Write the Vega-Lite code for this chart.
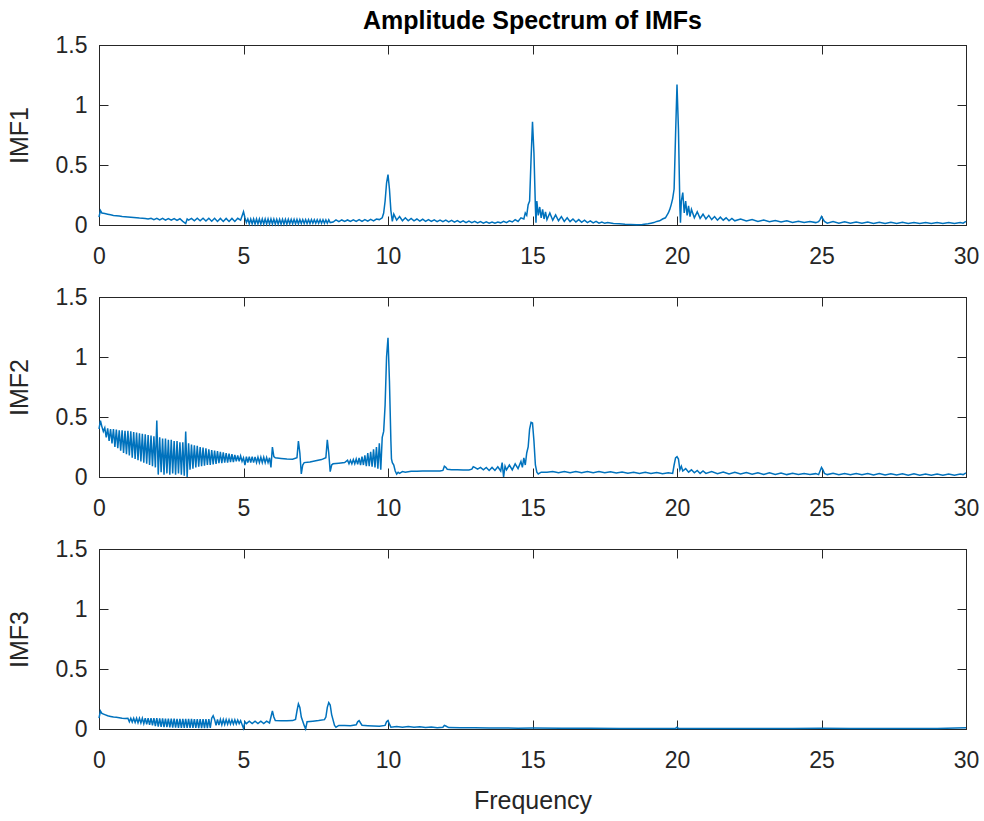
{
"$schema": "https://vega.github.io/schema/vega-lite/v6.json",
"background": "white",
"padding": {"left": 6, "top": 8, "right": 18, "bottom": 5},
"bounds": "flush",
"spacing": 72,
"config": {
 "view": {"stroke": "#262626", "strokeWidth": 1},
 "font": "Liberation Sans",
 "axis": {"grid": false, "domainColor": "#262626", "tickColor": "#262626", "labelColor": "#262626", "titleColor": "#262626", "labelFont": "Liberation Sans", "titleFont": "Liberation Sans", "labelFontSize": 23, "titleFontSize": 25, "titleFontWeight": "normal", "tickSize": -9, "tickWidth": 1, "domainWidth": 1, "labelOverlap": false}
},
"datasets": {
"d1": [
{"f":0,"a":0.065},{"f":0.05,"a":0.12},{"f":0.1,"a":0.1},{"f":0.2,"a":0.095},{"f":0.3,"a":0.09},{"f":0.4,"a":0.085},{"f":0.5,"a":0.08},{"f":0.6,"a":0.078},{"f":0.7,"a":0.075},{"f":0.8,"a":0.07},{"f":0.9,"a":0.068},{"f":1.0,"a":0.066},{"f":1.1,"a":0.064},{"f":1.2,"a":0.062},{"f":1.3,"a":0.06},{"f":1.4,"a":0.058},{"f":1.5,"a":0.057},{"f":1.6,"a":0.055},
{"f":1.7,"a":0.05},{"f":1.8,"a":0.056},{"f":1.9,"a":0.045},{"f":2.0,"a":0.055},{"f":2.1,"a":0.042},{"f":2.2,"a":0.055},{"f":2.3,"a":0.04},{"f":2.4,"a":0.054},{"f":2.5,"a":0.04},{"f":2.6,"a":0.054},{"f":2.7,"a":0.038},{"f":2.8,"a":0.052},{"f":2.9,"a":0.03},{"f":3.0,"a":0.012},{"f":3.05,"a":0.05},{"f":3.1,"a":0.04},{"f":3.2,"a":0.055},{"f":3.3,"a":0.035},{"f":3.4,"a":0.056},{"f":3.5,"a":0.035},{"f":3.6,"a":0.056},{"f":3.7,"a":0.033},{"f":3.8,"a":0.056},{"f":3.9,"a":0.032},{"f":4.0,"a":0.056},{"f":4.1,"a":0.03},{"f":4.2,"a":0.055},{"f":4.3,"a":0.03},{"f":4.4,"a":0.055},{"f":4.5,"a":0.03},{"f":4.6,"a":0.055},{"f":4.7,"a":0.03},{"f":4.8,"a":0.056},{"f":4.9,"a":0.04},{"f":4.95,"a":0.075},{"f":5.0,"a":0.11},{"f":5.05,"a":0.06},
{"f":5.1,"a":0.02},{"f":5.15,"a":0.05},{"f":5.2,"a":0.01},{"f":5.25,"a":0.05},{"f":5.3,"a":0.01},{"f":5.35,"a":0.05},{"f":5.4,"a":0.008},{"f":5.45,"a":0.05},{"f":5.5,"a":0.01},{"f":5.55,"a":0.05},{"f":5.6,"a":0.008},{"f":5.65,"a":0.05},{"f":5.7,"a":0.008},{"f":5.75,"a":0.05},{"f":5.8,"a":0.008},{"f":5.85,"a":0.05},{"f":5.9,"a":0.008},{"f":5.95,"a":0.05},{"f":6.0,"a":0.008},{"f":6.05,"a":0.049},{"f":6.1,"a":0.008},{"f":6.15,"a":0.048},{"f":6.2,"a":0.008},{"f":6.25,"a":0.048},{"f":6.3,"a":0.008},{"f":6.35,"a":0.048},{"f":6.4,"a":0.008},{"f":6.45,"a":0.048},{"f":6.5,"a":0.008},{"f":6.55,"a":0.048},{"f":6.6,"a":0.01},{"f":6.65,"a":0.047},{"f":6.7,"a":0.01},{"f":6.75,"a":0.047},{"f":6.8,"a":0.01},{"f":6.85,"a":0.046},{"f":6.9,"a":0.01},{"f":6.95,"a":0.046},{"f":7.0,"a":0.012},{"f":7.05,"a":0.045},{"f":7.1,"a":0.012},{"f":7.15,"a":0.045},{"f":7.2,"a":0.012},{"f":7.25,"a":0.045},{"f":7.3,"a":0.012},{"f":7.35,"a":0.045},{"f":7.4,"a":0.014},{"f":7.45,"a":0.044},{"f":7.5,"a":0.015},{"f":7.55,"a":0.044},{"f":7.6,"a":0.015},{"f":7.65,"a":0.044},{"f":7.7,"a":0.015},{"f":7.75,"a":0.044},{"f":7.8,"a":0.015},{"f":7.85,"a":0.043},{"f":7.9,"a":0.015},{"f":7.95,"a":0.043},{"f":8.0,"a":0.02},{"f":8.1,"a":0.025},{"f":8.2,"a":0.042},{"f":8.3,"a":0.028},{"f":8.4,"a":0.042},{"f":8.5,"a":0.03},{"f":8.6,"a":0.042},{"f":8.7,"a":0.03},{"f":8.8,"a":0.043},{"f":8.9,"a":0.03},{"f":9.0,"a":0.044},{"f":9.1,"a":0.03},{"f":9.2,"a":0.045},{"f":9.3,"a":0.032},{"f":9.4,"a":0.047},{"f":9.5,"a":0.035},{"f":9.6,"a":0.05},{"f":9.7,"a":0.045},{"f":9.8,"a":0.06},{"f":9.85,"a":0.1},{"f":9.9,"a":0.2},{"f":9.95,"a":0.35},{"f":10.0,"a":0.42},{"f":10.05,"a":0.3},{"f":10.1,"a":0.12},{"f":10.15,"a":0.03},{"f":10.2,"a":0.09},{"f":10.3,"a":0.04},{"f":10.4,"a":0.07},{"f":10.5,"a":0.035},{"f":10.6,"a":0.06},{"f":10.7,"a":0.035},{"f":10.8,"a":0.055},{"f":10.9,"a":0.035},{"f":11.0,"a":0.05},{"f":11.1,"a":0.033},{"f":11.2,"a":0.048},{"f":11.3,"a":0.03},{"f":11.4,"a":0.045},{"f":11.5,"a":0.03},{"f":11.6,"a":0.043},{"f":11.7,"a":0.028},{"f":11.8,"a":0.04},{"f":11.9,"a":0.027},{"f":12.0,"a":0.04},{"f":12.1,"a":0.025},{"f":12.2,"a":0.038},{"f":12.3,"a":0.024},{"f":12.4,"a":0.036},{"f":12.5,"a":0.022},{"f":12.6,"a":0.034},{"f":12.7,"a":0.02},{"f":12.8,"a":0.032},{"f":12.9,"a":0.02},{"f":13.0,"a":0.03},{"f":13.1,"a":0.018},{"f":13.2,"a":0.028},{"f":13.3,"a":0.016},{"f":13.4,"a":0.026},{"f":13.5,"a":0.015},{"f":13.6,"a":0.025},{"f":13.7,"a":0.015},{"f":13.8,"a":0.025},{"f":13.9,"a":0.018},{"f":14.0,"a":0.03},{"f":14.1,"a":0.02},{"f":14.2,"a":0.035},{"f":14.3,"a":0.025},{"f":14.4,"a":0.045},{"f":14.5,"a":0.03},{"f":14.6,"a":0.06},{"f":14.7,"a":0.05},{"f":14.75,"a":0.1},{"f":14.8,"a":0.08},{"f":14.85,"a":0.17},{"f":14.9,"a":0.2},{"f":14.95,"a":0.55},{"f":15.0,"a":0.86},{"f":15.05,"a":0.6},{"f":15.1,"a":0.15},{"f":15.12,"a":0.02},{"f":15.15,"a":0.2},{"f":15.2,"a":0.08},{"f":15.25,"a":0.15},{"f":15.3,"a":0.06},{"f":15.35,"a":0.13},{"f":15.4,"a":0.05},{"f":15.45,"a":0.11},{"f":15.5,"a":0.045},{"f":15.6,"a":0.1},{"f":15.7,"a":0.04},{"f":15.8,"a":0.085},{"f":15.9,"a":0.035},{"f":16.0,"a":0.07},{"f":16.1,"a":0.03},{"f":16.2,"a":0.06},{"f":16.3,"a":0.028},{"f":16.4,"a":0.05},{"f":16.5,"a":0.025},{"f":16.6,"a":0.045},{"f":16.7,"a":0.022},{"f":16.8,"a":0.04},{"f":16.9,"a":0.02},{"f":17.0,"a":0.035},{"f":17.1,"a":0.018},{"f":17.2,"a":0.03},{"f":17.3,"a":0.016},{"f":17.4,"a":0.025},{"f":17.5,"a":0.014},{"f":17.6,"a":0.02},{"f":17.8,"a":0.012},{"f":18.0,"a":0.01},{"f":18.2,"a":0.006},{"f":18.4,"a":0.004},{"f":18.6,"a":0.002},{"f":18.8,"a":0.004},{"f":19.0,"a":0.01},{"f":19.1,"a":0.015},{"f":19.2,"a":0.02},{"f":19.3,"a":0.03},{"f":19.4,"a":0.035},{"f":19.5,"a":0.05},{"f":19.6,"a":0.06},{"f":19.65,"a":0.08},{"f":19.7,"a":0.1},{"f":19.75,"a":0.13},{"f":19.8,"a":0.17},{"f":19.85,"a":0.22},{"f":19.9,"a":0.3},{"f":19.95,"a":0.75},{"f":20.0,"a":1.17},{"f":20.05,"a":0.8},{"f":20.1,"a":0.15},{"f":20.12,"a":0.02},{"f":20.15,"a":0.2},{"f":20.2,"a":0.27},{"f":20.25,"a":0.1},{"f":20.3,"a":0.2},{"f":20.35,"a":0.08},{"f":20.4,"a":0.16},{"f":20.45,"a":0.07},{"f":20.5,"a":0.13},{"f":20.6,"a":0.06},{"f":20.7,"a":0.11},{"f":20.8,"a":0.055},{"f":20.9,"a":0.09},{"f":21.0,"a":0.05},{"f":21.1,"a":0.08},{"f":21.2,"a":0.045},{"f":21.3,"a":0.07},{"f":21.4,"a":0.04},{"f":21.5,"a":0.065},{"f":21.6,"a":0.04},{"f":21.7,"a":0.06},{"f":21.8,"a":0.035},{"f":21.9,"a":0.055},{"f":22.0,"a":0.035},{"f":22.2,"a":0.05},{"f":22.4,"a":0.033},{"f":22.6,"a":0.045},{"f":22.8,"a":0.03},{"f":23.0,"a":0.042},{"f":23.2,"a":0.028},{"f":23.4,"a":0.038},{"f":23.6,"a":0.025},{"f":23.8,"a":0.035},{"f":24.0,"a":0.022},{"f":24.2,"a":0.032},{"f":24.4,"a":0.02},{"f":24.6,"a":0.03},{"f":24.8,"a":0.02},{"f":24.9,"a":0.028},{"f":24.95,"a":0.045},{"f":25.0,"a":0.07},{"f":25.05,"a":0.05},{"f":25.1,"a":0.03},{"f":25.2,"a":0.015},{"f":25.4,"a":0.028},{"f":25.6,"a":0.015},{"f":25.8,"a":0.026},{"f":26.0,"a":0.014},{"f":26.2,"a":0.025},{"f":26.4,"a":0.014},{"f":26.6,"a":0.024},{"f":26.8,"a":0.013},{"f":27.0,"a":0.023},{"f":27.2,"a":0.012},{"f":27.4,"a":0.022},{"f":27.6,"a":0.012},{"f":27.8,"a":0.022},{"f":28.0,"a":0.012},{"f":28.2,"a":0.021},{"f":28.4,"a":0.012},{"f":28.6,"a":0.02},{"f":28.8,"a":0.012},{"f":29.0,"a":0.02},{"f":29.2,"a":0.012},{"f":29.4,"a":0.02},{"f":29.6,"a":0.012},{"f":29.8,"a":0.02},{"f":29.9,"a":0.015},{"f":30.0,"a":0.03}
],
"d2": [
{"f":0,"a":0.4},{"f":0.05,"a":0.47},{"f":0.1,"a":0.42},{"f":0.15,"a":0.38},{"f":0.2,"a":0.41},{"f":0.25,"a":0.33},{"f":0.3,"a":0.405},{"f":0.35,"a":0.3},{"f":0.4,"a":0.4},{"f":0.45,"a":0.28},{"f":0.5,"a":0.4},{"f":0.55,"a":0.25},{"f":0.6,"a":0.395},{"f":0.65,"a":0.24},{"f":0.7,"a":0.39},{"f":0.75,"a":0.22},{"f":0.8,"a":0.39},{"f":0.85,"a":0.2},{"f":0.9,"a":0.385},{"f":0.95,"a":0.19},{"f":1.0,"a":0.385},{"f":1.05,"a":0.18},{"f":1.1,"a":0.38},{"f":1.15,"a":0.16},{"f":1.2,"a":0.375},{"f":1.25,"a":0.15},{"f":1.3,"a":0.37},{"f":1.35,"a":0.14},{"f":1.4,"a":0.365},{"f":1.45,"a":0.13},{"f":1.5,"a":0.36},{"f":1.55,"a":0.12},{"f":1.6,"a":0.355},{"f":1.65,"a":0.11},{"f":1.7,"a":0.35},{"f":1.75,"a":0.1},{"f":1.8,"a":0.345},{"f":1.85,"a":0.09},{"f":1.9,"a":0.34},{"f":1.95,"a":0.08},{"f":2.0,"a":0.47},{"f":2.05,"a":0.02},{"f":2.1,"a":0.33},{"f":2.15,"a":0.04},{"f":2.2,"a":0.32},{"f":2.25,"a":0.02},{"f":2.3,"a":0.32},{"f":2.35,"a":0.03},{"f":2.4,"a":0.31},{"f":2.45,"a":0.02},{"f":2.5,"a":0.31},{"f":2.55,"a":0.03},{"f":2.6,"a":0.3},{"f":2.65,"a":0.02},{"f":2.7,"a":0.3},{"f":2.75,"a":0.03},{"f":2.8,"a":0.29},{"f":2.85,"a":0.02},{"f":2.9,"a":0.29},{"f":2.95,"a":0.01},{"f":3.0,"a":0.38},{"f":3.05,"a":0.0},{"f":3.1,"a":0.28},{"f":3.15,"a":0.06},{"f":3.2,"a":0.27},{"f":3.25,"a":0.07},{"f":3.3,"a":0.265},{"f":3.35,"a":0.08},{"f":3.4,"a":0.26},{"f":3.45,"a":0.085},{"f":3.5,"a":0.25},{"f":3.55,"a":0.09},{"f":3.6,"a":0.245},{"f":3.65,"a":0.095},{"f":3.7,"a":0.24},{"f":3.75,"a":0.1},{"f":3.8,"a":0.23},{"f":3.85,"a":0.1},{"f":3.9,"a":0.225},{"f":3.95,"a":0.105},{"f":4.0,"a":0.22},{"f":4.05,"a":0.11},{"f":4.1,"a":0.215},{"f":4.15,"a":0.115},{"f":4.2,"a":0.21},{"f":4.25,"a":0.115},{"f":4.3,"a":0.205},{"f":4.35,"a":0.12},{"f":4.4,"a":0.2},{"f":4.45,"a":0.12},{"f":4.5,"a":0.195},{"f":4.55,"a":0.125},{"f":4.6,"a":0.19},{"f":4.65,"a":0.125},{"f":4.7,"a":0.185},{"f":4.75,"a":0.13},{"f":4.8,"a":0.18},{"f":4.85,"a":0.13},{"f":4.9,"a":0.175},{"f":4.95,"a":0.13},{"f":5.0,"a":0.16},{"f":5.05,"a":0.1},{"f":5.1,"a":0.17},{"f":5.15,"a":0.12},{"f":5.2,"a":0.17},{"f":5.25,"a":0.12},{"f":5.3,"a":0.17},{"f":5.35,"a":0.12},{"f":5.4,"a":0.168},{"f":5.45,"a":0.12},{"f":5.5,"a":0.165},{"f":5.55,"a":0.12},{"f":5.6,"a":0.165},{"f":5.65,"a":0.12},{"f":5.7,"a":0.165},{"f":5.75,"a":0.12},{"f":5.8,"a":0.163},{"f":5.85,"a":0.12},{"f":5.9,"a":0.16},{"f":5.95,"a":0.08},{"f":6.0,"a":0.25},{"f":6.05,"a":0.17},{"f":6.1,"a":0.16},{"f":6.3,"a":0.155},{"f":6.5,"a":0.15},{"f":6.7,"a":0.148},{"f":6.85,"a":0.16},{"f":6.9,"a":0.3},{"f":6.95,"a":0.2},{"f":7.0,"a":0.025},{"f":7.05,"a":0.1},{"f":7.1,"a":0.12},{"f":7.3,"a":0.125},{"f":7.5,"a":0.135},{"f":7.7,"a":0.145},{"f":7.85,"a":0.16},{"f":7.9,"a":0.31},{"f":7.95,"a":0.2},{"f":8.0,"a":0.045},{"f":8.05,"a":0.1},{"f":8.1,"a":0.11},{"f":8.3,"a":0.115},{"f":8.5,"a":0.12},{"f":8.6,"a":0.14},{"f":8.65,"a":0.11},{"f":8.7,"a":0.14},{"f":8.75,"a":0.11},{"f":8.8,"a":0.145},{"f":8.85,"a":0.11},{"f":8.9,"a":0.15},{"f":8.95,"a":0.105},{"f":9.0,"a":0.16},{"f":9.05,"a":0.1},{"f":9.1,"a":0.17},{"f":9.15,"a":0.1},{"f":9.2,"a":0.18},{"f":9.25,"a":0.09},{"f":9.3,"a":0.2},{"f":9.35,"a":0.09},{"f":9.4,"a":0.21},{"f":9.45,"a":0.085},{"f":9.5,"a":0.23},{"f":9.55,"a":0.08},{"f":9.6,"a":0.25},{"f":9.65,"a":0.07},{"f":9.7,"a":0.28},{"f":9.75,"a":0.06},{"f":9.8,"a":0.33},{"f":9.85,"a":0.38},{"f":9.9,"a":0.6},{"f":9.95,"a":1.0},{"f":10.0,"a":1.16},{"f":10.05,"a":0.8},{"f":10.1,"a":0.3},{"f":10.12,"a":0.15},{"f":10.15,"a":0.12},{"f":10.2,"a":0.1},{"f":10.25,"a":0.05},{"f":10.3,"a":0.025},{"f":10.35,"a":0.04},{"f":10.4,"a":0.03},{"f":10.5,"a":0.045},{"f":10.6,"a":0.04},{"f":10.8,"a":0.047},{"f":11.0,"a":0.048},{"f":11.2,"a":0.05},{"f":11.4,"a":0.05},{"f":11.6,"a":0.05},{"f":11.8,"a":0.05},{"f":11.9,"a":0.055},{"f":11.95,"a":0.09},{"f":12.0,"a":0.08},{"f":12.05,"a":0.065},{"f":12.2,"a":0.06},{"f":12.4,"a":0.06},{"f":12.6,"a":0.058},{"f":12.8,"a":0.058},{"f":12.9,"a":0.065},{"f":12.95,"a":0.085},{"f":13.0,"a":0.08},{"f":13.1,"a":0.065},{"f":13.2,"a":0.08},{"f":13.3,"a":0.06},{"f":13.4,"a":0.08},{"f":13.5,"a":0.055},{"f":13.6,"a":0.08},{"f":13.7,"a":0.055},{"f":13.8,"a":0.085},{"f":13.9,"a":0.05},{"f":13.95,"a":0.12},{"f":14.0,"a":0.0},{"f":14.05,"a":0.09},{"f":14.1,"a":0.06},{"f":14.2,"a":0.1},{"f":14.3,"a":0.06},{"f":14.4,"a":0.11},{"f":14.5,"a":0.07},{"f":14.6,"a":0.13},{"f":14.65,"a":0.08},{"f":14.7,"a":0.16},{"f":14.75,"a":0.1},{"f":14.8,"a":0.2},{"f":14.85,"a":0.25},{"f":14.9,"a":0.4},{"f":14.95,"a":0.455},{"f":15.0,"a":0.45},{"f":15.05,"a":0.3},{"f":15.1,"a":0.1},{"f":15.15,"a":0.04},{"f":15.2,"a":0.025},{"f":15.3,"a":0.04},{"f":15.5,"a":0.04},{"f":15.7,"a":0.045},{"f":15.9,"a":0.035},{"f":16.1,"a":0.045},{"f":16.3,"a":0.035},{"f":16.5,"a":0.045},{"f":16.7,"a":0.035},{"f":16.9,"a":0.045},{"f":17.1,"a":0.035},{"f":17.3,"a":0.045},{"f":17.5,"a":0.035},{"f":17.7,"a":0.043},{"f":17.9,"a":0.033},{"f":18.1,"a":0.042},{"f":18.3,"a":0.032},{"f":18.5,"a":0.04},{"f":18.7,"a":0.03},{"f":18.9,"a":0.04},{"f":19.1,"a":0.03},{"f":19.3,"a":0.038},{"f":19.5,"a":0.028},{"f":19.7,"a":0.035},{"f":19.85,"a":0.03},{"f":19.9,"a":0.1},{"f":19.95,"a":0.16},{"f":20.0,"a":0.17},{"f":20.05,"a":0.15},{"f":20.1,"a":0.06},{"f":20.15,"a":0.09},{"f":20.2,"a":0.05},{"f":20.3,"a":0.07},{"f":20.4,"a":0.04},{"f":20.5,"a":0.06},{"f":20.6,"a":0.035},{"f":20.7,"a":0.055},{"f":20.8,"a":0.03},{"f":20.9,"a":0.05},{"f":21.0,"a":0.03},{"f":21.2,"a":0.045},{"f":21.4,"a":0.028},{"f":21.6,"a":0.042},{"f":21.8,"a":0.026},{"f":22.0,"a":0.04},{"f":22.2,"a":0.025},{"f":22.4,"a":0.038},{"f":22.6,"a":0.024},{"f":22.8,"a":0.036},{"f":23.0,"a":0.022},{"f":23.2,"a":0.035},{"f":23.4,"a":0.022},{"f":23.6,"a":0.034},{"f":23.8,"a":0.02},{"f":24.0,"a":0.032},{"f":24.2,"a":0.02},{"f":24.4,"a":0.03},{"f":24.6,"a":0.02},{"f":24.8,"a":0.028},{"f":24.9,"a":0.02},{"f":24.95,"a":0.05},{"f":25.0,"a":0.08},{"f":25.05,"a":0.06},{"f":25.1,"a":0.03},{"f":25.2,"a":0.02},{"f":25.4,"a":0.032},{"f":25.6,"a":0.018},{"f":25.8,"a":0.03},{"f":26.0,"a":0.018},{"f":26.2,"a":0.03},{"f":26.4,"a":0.018},{"f":26.6,"a":0.028},{"f":26.8,"a":0.016},{"f":27.0,"a":0.028},{"f":27.2,"a":0.016},{"f":27.4,"a":0.027},{"f":27.6,"a":0.016},{"f":27.8,"a":0.026},{"f":28.0,"a":0.015},{"f":28.2,"a":0.026},{"f":28.4,"a":0.015},{"f":28.6,"a":0.025},{"f":28.8,"a":0.015},{"f":29.0,"a":0.025},{"f":29.2,"a":0.015},{"f":29.4,"a":0.025},{"f":29.6,"a":0.015},{"f":29.8,"a":0.025},{"f":29.9,"a":0.02},{"f":30.0,"a":0.035}
],
"d3": [
{"f":0,"a":0.09},{"f":0.05,"a":0.15},{"f":0.1,"a":0.13},{"f":0.2,"a":0.12},{"f":0.3,"a":0.11},{"f":0.4,"a":0.105},{"f":0.5,"a":0.1},{"f":0.6,"a":0.097},{"f":0.7,"a":0.094},{"f":0.8,"a":0.09},{"f":0.9,"a":0.088},{"f":1.0,"a":0.09},{"f":1.05,"a":0.06},{"f":1.1,"a":0.09},{"f":1.15,"a":0.058},{"f":1.2,"a":0.09},{"f":1.25,"a":0.055},{"f":1.3,"a":0.09},{"f":1.35,"a":0.052},{"f":1.4,"a":0.09},{"f":1.45,"a":0.05},{"f":1.5,"a":0.09},{"f":1.55,"a":0.045},{"f":1.6,"a":0.09},{"f":1.65,"a":0.04},{"f":1.7,"a":0.09},{"f":1.75,"a":0.035},{"f":1.8,"a":0.09},{"f":1.85,"a":0.03},{"f":1.9,"a":0.09},{"f":1.95,"a":0.025},{"f":2.0,"a":0.09},{"f":2.05,"a":0.02},{"f":2.1,"a":0.088},{"f":2.15,"a":0.018},{"f":2.2,"a":0.088},{"f":2.25,"a":0.015},{"f":2.3,"a":0.087},{"f":2.35,"a":0.015},{"f":2.4,"a":0.087},{"f":2.45,"a":0.013},{"f":2.5,"a":0.086},{"f":2.55,"a":0.012},{"f":2.6,"a":0.086},{"f":2.65,"a":0.012},{"f":2.7,"a":0.085},{"f":2.75,"a":0.01},{"f":2.8,"a":0.085},{"f":2.85,"a":0.01},{"f":2.9,"a":0.085},{"f":2.95,"a":0.01},{"f":3.0,"a":0.085},{"f":3.05,"a":0.01},{"f":3.1,"a":0.084},{"f":3.15,"a":0.01},{"f":3.2,"a":0.084},{"f":3.25,"a":0.01},{"f":3.3,"a":0.083},{"f":3.35,"a":0.009},{"f":3.4,"a":0.083},{"f":3.45,"a":0.008},{"f":3.5,"a":0.082},{"f":3.55,"a":0.008},{"f":3.6,"a":0.082},{"f":3.65,"a":0.008},{"f":3.7,"a":0.082},{"f":3.75,"a":0.008},{"f":3.8,"a":0.082},{"f":3.85,"a":0.01},{"f":3.9,"a":0.09},{"f":3.95,"a":0.11},{"f":4.0,"a":0.08},{"f":4.05,"a":0.03},{"f":4.1,"a":0.08},{"f":4.15,"a":0.032},{"f":4.2,"a":0.08},{"f":4.25,"a":0.035},{"f":4.3,"a":0.079},{"f":4.35,"a":0.037},{"f":4.4,"a":0.078},{"f":4.45,"a":0.04},{"f":4.5,"a":0.077},{"f":4.55,"a":0.04},{"f":4.6,"a":0.076},{"f":4.65,"a":0.04},{"f":4.7,"a":0.076},{"f":4.75,"a":0.042},{"f":4.8,"a":0.075},{"f":4.85,"a":0.045},{"f":4.9,"a":0.07},{"f":5.0,"a":0.005},{"f":5.05,"a":0.06},{"f":5.1,"a":0.045},{"f":5.2,"a":0.065},{"f":5.3,"a":0.045},{"f":5.4,"a":0.065},{"f":5.5,"a":0.045},{"f":5.6,"a":0.065},{"f":5.7,"a":0.045},{"f":5.8,"a":0.065},{"f":5.9,"a":0.05},{"f":5.95,"a":0.1},{"f":6.0,"a":0.15},{"f":6.05,"a":0.1},{"f":6.1,"a":0.07},{"f":6.3,"a":0.068},{"f":6.5,"a":0.068},{"f":6.7,"a":0.07},{"f":6.8,"a":0.08},{"f":6.85,"a":0.15},{"f":6.9,"a":0.21},{"f":6.95,"a":0.18},{"f":7.0,"a":0.1},{"f":7.1,"a":0.03},{"f":7.15,"a":0.0},{"f":7.2,"a":0.06},{"f":7.4,"a":0.065},{"f":7.6,"a":0.07},{"f":7.8,"a":0.078},{"f":7.85,"a":0.1},{"f":7.9,"a":0.18},{"f":7.95,"a":0.22},{"f":8.0,"a":0.2},{"f":8.05,"a":0.12},{"f":8.15,"a":0.03},{"f":8.2,"a":0.015},{"f":8.3,"a":0.03},{"f":8.5,"a":0.03},{"f":8.7,"a":0.028},{"f":8.9,"a":0.035},{"f":8.95,"a":0.06},{"f":9.0,"a":0.07},{"f":9.05,"a":0.05},{"f":9.1,"a":0.032},{"f":9.3,"a":0.028},{"f":9.5,"a":0.025},{"f":9.7,"a":0.022},{"f":9.9,"a":0.03},{"f":9.95,"a":0.06},{"f":10.0,"a":0.07},{"f":10.05,"a":0.04},{"f":10.1,"a":0.015},{"f":10.3,"a":0.02},{"f":10.5,"a":0.015},{"f":10.7,"a":0.02},{"f":10.9,"a":0.014},{"f":11.1,"a":0.018},{"f":11.3,"a":0.012},{"f":11.5,"a":0.016},{"f":11.7,"a":0.01},{"f":11.9,"a":0.015},{"f":11.95,"a":0.03},{"f":12.0,"a":0.025},{"f":12.1,"a":0.012},{"f":12.5,"a":0.01},{"f":13.0,"a":0.01},{"f":13.5,"a":0.008},{"f":14.0,"a":0.008},{"f":14.5,"a":0.007},{"f":15.0,"a":0.008},{"f":16.0,"a":0.006},{"f":17.0,"a":0.006},{"f":18.0,"a":0.005},{"f":19.0,"a":0.005},{"f":19.95,"a":0.005},{"f":20.0,"a":0.015},{"f":20.05,"a":0.005},{"f":21.0,"a":0.005},{"f":22.0,"a":0.004},{"f":23.0,"a":0.004},{"f":24.0,"a":0.004},{"f":25.0,"a":0.006},{"f":26.0,"a":0.004},{"f":27.0,"a":0.004},{"f":28.0,"a":0.004},{"f":29.0,"a":0.004},{"f":30.0,"a":0.01}
]
},
"vconcat": [
{
 "width": 867, "height": 180,
 "title": {"text": "Amplitude Spectrum of IMFs", "fontSize": 25, "fontWeight": "bold", "font": "Liberation Sans", "color": "#000000", "anchor": "middle", "frame": "group", "offset": 0},
 "data": {"name": "d1"},
 "layer": [
  {"mark": {"type": "line", "color": "#0072BD", "strokeWidth": 1.5},
   "encoding": {
    "x": {"field": "f", "type": "quantitative", "scale": {"domain": [0, 30], "nice": false, "zero": false}, "axis": {"orient": "bottom", "values": [0, 5, 10, 15, 20, 25, 30], "title": null, "labelPadding": 29, "labelFlush": false}},
    "y": {"field": "a", "type": "quantitative", "scale": {"domain": [0, 1.5], "nice": false}, "axis": {"orient": "left", "values": [0, 0.5, 1, 1.5], "format": "~g", "title": "IMF1", "labelPadding": 21, "titlePadding": 23}}
   }},
  {"mark": {"type": "line", "opacity": 0},
   "encoding": {
    "x": {"field": "f", "type": "quantitative", "axis": {"orient": "top", "values": [0, 5, 10, 15, 20, 25, 30], "labels": false, "title": null}},
    "y": {"field": "a", "type": "quantitative", "axis": {"orient": "right", "values": [0, 0.5, 1, 1.5], "labels": false, "title": null}}
   }}
 ],
 "resolve": {"axis": {"x": "independent", "y": "independent"}}
},
{
 "width": 867, "height": 180,
 "data": {"name": "d2"},
 "layer": [
  {"mark": {"type": "line", "color": "#0072BD", "strokeWidth": 1.5},
   "encoding": {
    "x": {"field": "f", "type": "quantitative", "scale": {"domain": [0, 30], "nice": false, "zero": false}, "axis": {"orient": "bottom", "values": [0, 5, 10, 15, 20, 25, 30], "title": null, "labelPadding": 29, "labelFlush": false}},
    "y": {"field": "a", "type": "quantitative", "scale": {"domain": [0, 1.5], "nice": false}, "axis": {"orient": "left", "values": [0, 0.5, 1, 1.5], "format": "~g", "title": "IMF2", "labelPadding": 21, "titlePadding": 23}}
   }},
  {"mark": {"type": "line", "opacity": 0},
   "encoding": {
    "x": {"field": "f", "type": "quantitative", "axis": {"orient": "top", "values": [0, 5, 10, 15, 20, 25, 30], "labels": false, "title": null}},
    "y": {"field": "a", "type": "quantitative", "axis": {"orient": "right", "values": [0, 0.5, 1, 1.5], "labels": false, "title": null}}
   }}
 ],
 "resolve": {"axis": {"x": "independent", "y": "independent"}}
},
{
 "width": 867, "height": 180,
 "data": {"name": "d3"},
 "layer": [
  {"mark": {"type": "line", "color": "#0072BD", "strokeWidth": 1.5},
   "encoding": {
    "x": {"field": "f", "type": "quantitative", "scale": {"domain": [0, 30], "nice": false, "zero": false}, "axis": {"orient": "bottom", "values": [0, 5, 10, 15, 20, 25, 30], "title": "Frequency", "labelPadding": 29, "labelFlush": false, "titlePadding": 16}},
    "y": {"field": "a", "type": "quantitative", "scale": {"domain": [0, 1.5], "nice": false}, "axis": {"orient": "left", "values": [0, 0.5, 1, 1.5], "format": "~g", "title": "IMF3", "labelPadding": 21, "titlePadding": 23}}
   }},
  {"mark": {"type": "line", "opacity": 0},
   "encoding": {
    "x": {"field": "f", "type": "quantitative", "axis": {"orient": "top", "values": [0, 5, 10, 15, 20, 25, 30], "labels": false, "title": null}},
    "y": {"field": "a", "type": "quantitative", "axis": {"orient": "right", "values": [0, 0.5, 1, 1.5], "labels": false, "title": null}}
   }}
 ],
 "resolve": {"axis": {"x": "independent", "y": "independent"}}
}
]
}
